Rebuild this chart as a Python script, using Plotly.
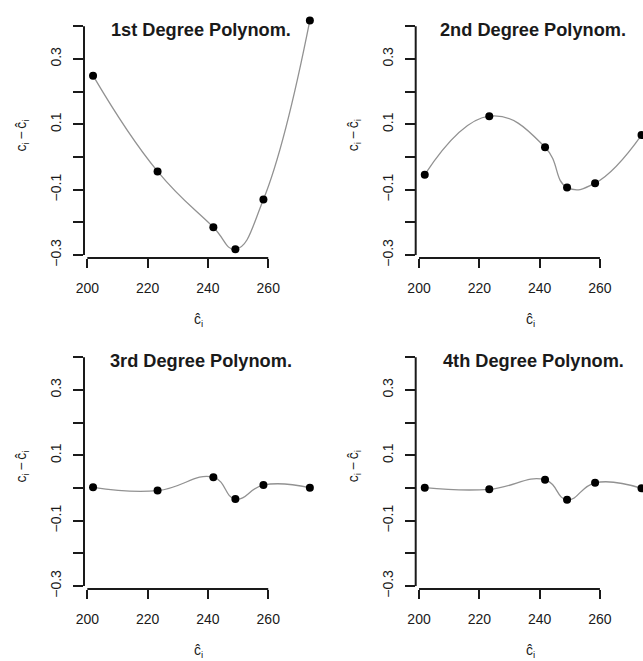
import plotly.graph_objects as go

# ---- data ----
fitted_c = [201.9, 223.3, 241.8, 249.1, 258.4, 273.8]
resid_deg1 = [0.249, -0.044, -0.215, -0.282, -0.130, 0.418]
resid_deg2 = [-0.054, 0.125, 0.030, -0.093, -0.080, 0.067]
resid_deg3 = [0.002, -0.008, 0.033, -0.034, 0.009, 0.001]
resid_deg4 = [0.001, -0.004, 0.025, -0.036, 0.016, -0.001]
panel_titles = ["1st Degree Polynom.", "2nd Degree Polynom.",
                "3rd Degree Polynom.", "4th Degree Polynom."]
y_tick_vals = [-0.3, -0.1, 0.1, 0.3]
y_tick_text = ["\u22120.3", "\u22120.1", "0.1", "0.3"]
x_tick_vals = [200, 220, 240, 260]
x_tick_text = ["200", "220", "240", "260"]

W, H = 643, 661
FONT = "Liberation Sans, Arial, Helvetica, sans-serif"
INK = "#1a1a1a"

def fx(p):
    return p / W

def fy(p):
    return 1 - p / H

col_px = [(84.0, 318.6), (415.7, 643.0)]
row_px = [(13.2, 258.0), (344.2, 589.0)]
x_ranges = [[198.9, 276.7], [198.9, 198.9 + (643.0 - 415.7) / 3.015]]
y_range = [-0.309, 0.44]

series = [resid_deg1, resid_deg2, resid_deg3, resid_deg4]

fig = go.Figure()
layout = dict(
    width=W, height=H, margin=dict(l=0, r=0, t=0, b=0, autoexpand=False),
    paper_bgcolor="white", plot_bgcolor="white", showlegend=False,
    font=dict(family=FONT, size=14, color=INK),
)
shapes = []
annotations = []

for i, vals in enumerate(series):
    r, c = divmod(i, 2)
    n = "" if i == 0 else str(i + 1)
    xa, ya = "x" + n, "y" + n
    fig.add_trace(go.Scatter(
        x=fitted_c, y=vals, mode="lines",
        line=dict(color="#929292", width=1.3, shape="spline", smoothing=1.3),
        xaxis=xa, yaxis=ya, hoverinfo="skip"))
    fig.add_trace(go.Scatter(
        x=fitted_c, y=vals, mode="markers", marker=dict(color="black", size=8),
        xaxis=xa, yaxis=ya))
    xl, xr = col_px[c]
    yt, yb = row_px[r]
    layout["xaxis" + n] = dict(
        domain=[fx(xl), fx(xr)], range=x_ranges[c], anchor=ya, automargin=False,
        showgrid=False, zeroline=False, showline=False,
        tickvals=x_tick_vals, ticktext=x_tick_text,
        ticks="outside", ticklen=9, tickwidth=2, tickcolor=INK,
        tickfont=dict(size=14, color=INK), ticklabelstandoff=8,
    )
    layout["yaxis" + n] = dict(
        domain=[fy(yb), fy(yt)], range=y_range, anchor=xa, automargin=False,
        showgrid=False, zeroline=False, showline=False,
        tickvals=y_tick_vals, ticktext=y_tick_text, tickangle=-90,
        ticks="outside", ticklen=10, tickwidth=2, tickcolor=INK,
        minor=dict(ticks="outside", ticklen=10, tickwidth=2, tickcolor=INK,
                   tick0=0, dtick=0.1, showgrid=False),
        tickfont=dict(size=14, color=INK), ticklabelstandoff=6,
    )
    # R-style axis lines spanning only the tick range
    shapes.append(dict(type="line", xref=xa + " domain", yref=ya, x0=0, x1=0,
                       y0=-0.3, y1=0.4, line=dict(color=INK, width=2)))
    shapes.append(dict(type="line", xref=xa, yref=ya + " domain", x0=200, x1=260,
                       y0=0, y1=0, line=dict(color=INK, width=2)))
    full_center = xl + 117.3
    annotations.append(dict(text="<b>" + panel_titles[i] + "</b>", xref="paper", yref="paper",
                            x=fx(full_center), y=fy(yt + 17), xanchor="center", yanchor="middle",
                            showarrow=False, font=dict(size=18.2, color=INK, family=FONT)))
    annotations.append(dict(text="\u0109<sub>i</sub>", xref="paper", yref="paper",
                            x=fx(full_center - 3), y=fy(yb + 62), xanchor="center", yanchor="middle",
                            showarrow=False, font=dict(size=14, color=INK, family=FONT)))
    annotations.append(dict(text="c<sub>i</sub>\u2009\u2212\u2009\u0109<sub>i</sub>", xref="paper", yref="paper",
                            x=fx(xl - 62), y=fy((yt + yb) / 2), xanchor="center", yanchor="middle",
                            textangle=-90, showarrow=False,
                            font=dict(size=14, color=INK, family=FONT)))

layout["shapes"] = shapes
layout["annotations"] = annotations
fig.update_layout(**layout)
fig.write_html("out.html", config={"displayModeBar": False, "staticPlot": True},
               post_script="document.body.style.margin='0';document.body.style.overflow='hidden';")
